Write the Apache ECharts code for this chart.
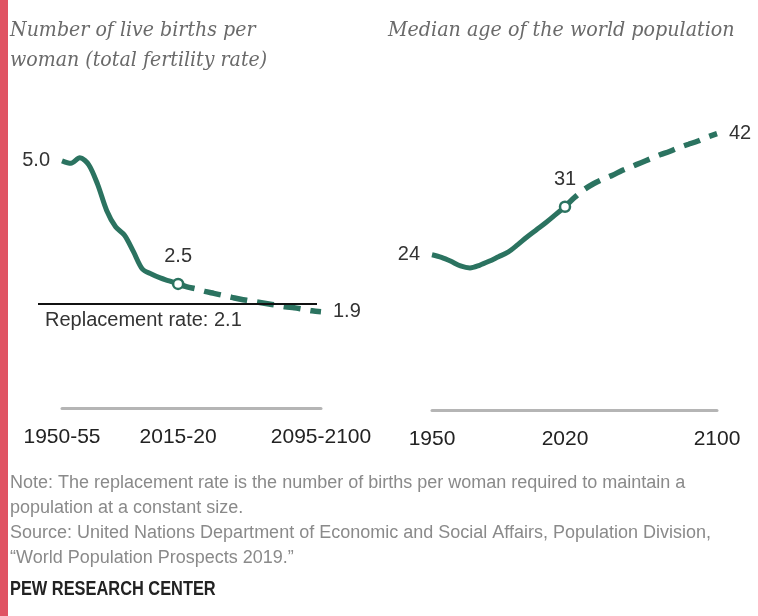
<!DOCTYPE html>
<html>
<head>
<meta charset="utf-8">
<script src="https://cdn.jsdelivr.net/npm/echarts@6.0.0/dist/echarts.min.js"></script>
<style>
html, body { margin: 0; padding: 0; background: #fff; }
#main { width: 758px; height: 616px; }
</style>
</head>
<body>
<div id="main"></div>
<script>
// total fertility rate, five-year periods
const periods = ['1950-55', '1955-60', '1960-65', '1965-70', '1970-75', '1975-80', '1980-85', '1985-90',
  '1990-95', '1995-2000', '2000-05', '2005-10', '2010-15', '2015-20', '2020-25', '2025-30', '2030-35',
  '2035-40', '2040-45', '2045-50', '2050-55', '2055-60', '2060-65', '2065-70', '2070-75', '2075-80',
  '2080-85', '2085-90', '2090-95', '2095-2100'];
const tfrPast = [4.98, 4.93, 5.04, 4.9, 4.5, 3.98, 3.65, 3.48, 3.15, 2.8, 2.7, 2.62, 2.56, 2.5];
const tfrProj = [2.5, 2.44, 2.4, 2.35, 2.31, 2.27, 2.23, 2.19, 2.16, 2.13, 2.1, 2.07, 2.04, 2.02, 1.99, 1.96, 1.94];
const periodTicks = ['1950-55', '2015-20', '2095-2100'];
const replacementRate = 2.1;

// median age of the world population
const ageYearsPast = [1950, 1955, 1960, 1965, 1970, 1975, 1980, 1985, 1990, 1995, 2000, 2005, 2010, 2015, 2020];
const agePast = [23.6, 23.2, 22.6, 21.9, 21.6, 22.0, 22.6, 23.3, 24.0, 25.1, 26.3, 27.4, 28.5, 29.7, 30.9];
const ageYearsProj = [2020, 2025, 2030, 2035, 2040, 2045, 2050, 2055, 2060, 2065, 2070, 2075, 2080, 2085, 2090, 2095, 2100];
const ageProj = [30.9, 32.3, 33.5, 34.4, 35.1, 35.7, 36.4, 37.0, 37.6, 38.2, 38.8, 39.3, 39.9, 40.4, 40.9, 41.5, 42.0];
const yearTicks = [1950, 2020, 2100];

const green = '#2b7360';
const labelFont = { fontFamily: 'Liberation Sans, Arial, sans-serif', fontSize: 20, color: '#333' };

function tag(value, position, digits, marker) {
  return {
    value: value,
    symbolSize: marker ? 10 : 0,
    label: Object.assign({ show: true, position: position, distance: marker ? 11 : 12,
      formatter: p => Number(Array.isArray(p.value) ? p.value[1] : p.value).toFixed(digits) }, labelFont)
  };
}

const tfrPastData = periods.map((p, i) => {
  if (i >= tfrPast.length) return '-';
  if (i === 0) return tag(tfrPast[i], 'left', 1, false);
  if (i === tfrPast.length - 1) return tag(tfrPast[i], 'top', 1, true);
  return tfrPast[i];
});
const offset = periods.length - tfrProj.length;
const tfrProjData = periods.map((p, i) => {
  if (i < offset) return '-';
  const v = tfrProj[i - offset];
  if (i === periods.length - 1) return tag(v, 'right', 1, false);
  return v;
});

const agePastData = ageYearsPast.map((y, i) => {
  if (i === 0) return tag([y, agePast[i]], 'left', 0, false);
  if (i === ageYearsPast.length - 1) return tag([y, agePast[i]], 'top', 0, true);
  return [y, agePast[i]];
});
const ageProjData = ageYearsProj.map((y, i) => {
  if (i === ageYearsProj.length - 1) return tag([y, ageProj[i]], 'right', 0, false);
  return [y, ageProj[i]];
});

const axisText = { fontFamily: 'Liberation Sans, Arial, sans-serif', fontSize: 21, color: '#222', margin: 19 };
const baseLine = { show: true, lineStyle: { color: '#b5b5b5', width: 3 } };

function lineSeries(name, xi, data, dashed, z) {
  return {
    name: name,
    type: 'line',
    xAxisIndex: xi,
    yAxisIndex: xi,
    data: data,
    z: z,
    symbol: 'circle',
    symbolSize: 0,
    showSymbol: true,
    clip: false,
    smooth: 0.3,
    connectNulls: false,
    lineStyle: { color: green, width: dashed ? 5.5 : 5, type: dashed ? [17, 10] : 'solid', cap: 'butt' },
    itemStyle: { color: '#fff', borderColor: green, borderWidth: 2.5 },
    emphasis: { disabled: true }
  };
}

const chart = echarts.init(document.getElementById('main'));
chart.setOption({
  backgroundColor: '#fff',
  animation: false,
  grid: [
    { left: 62, width: 259, top: 135, height: 273 },
    { left: 432, width: 285, top: 114, height: 296 },
    // same vertical scale as the fertility panel, a bit wider to the left, for the replacement line
    { left: 38, width: 279, top: 135, height: 273 }
  ],
  xAxis: [
    {
      type: 'category', gridIndex: 0, data: periods, boundaryGap: false,
      axisLine: baseLine, axisTick: { show: false }, splitLine: { show: false },
      axisLabel: Object.assign({ interval: (i, v) => periodTicks.includes(v) }, axisText)
    },
    {
      type: 'value', gridIndex: 1, min: 1950, max: 2100, interval: 10,
      axisLine: baseLine, axisTick: { show: false }, splitLine: { show: false },
      axisLabel: Object.assign({ formatter: v => yearTicks.includes(v) ? String(v) : '' }, axisText)
    },
    { type: 'value', gridIndex: 2, min: 0, max: 1, show: false, splitLine: { show: false } }
  ],
  yAxis: [
    { type: 'value', gridIndex: 0, min: 0, max: 5.5, show: false, splitLine: { show: false } },
    { type: 'value', gridIndex: 1, min: 0, max: 45, show: false, splitLine: { show: false } },
    { type: 'value', gridIndex: 2, min: 0, max: 5.5, show: false, splitLine: { show: false } }
  ],
  series: [
    lineSeries('Fertility projected', 0, tfrProjData, true, 2),
    lineSeries('Fertility', 0, tfrPastData, false, 3),
    {
      name: 'Replacement rate',
      type: 'line', xAxisIndex: 2, yAxisIndex: 2, data: [], z: 4,
      markLine: {
        silent: true, symbol: 'none',
        lineStyle: { color: '#111', width: 2, type: 'solid' },
        label: Object.assign({ show: true, position: 'insideStartBottom', distance: [7, 7],
          formatter: 'Replacement rate: ' + replacementRate }, labelFont),
        data: [{ yAxis: replacementRate }]
      }
    },
    lineSeries('Median age projected', 1, ageProjData, true, 2),
    lineSeries('Median age', 1, agePastData, false, 3)
  ],
  graphic: [
    { type: 'rect', left: 0, top: 0, shape: { width: 8, height: 616 }, style: { fill: '#e05363' } },
    { type: 'text', x: 10, y: 16, scaleX: 0.95, style: { text: 'Number of live births per\nwoman (total fertility rate)',
      font: 'italic 20px "DejaVu Serif", Georgia, serif', fill: '#6a6a6a', lineHeight: 30 } },
    { type: 'text', x: 388, y: 16, scaleX: 0.955, style: { text: 'Median age of the world population',
      font: 'italic 20px "DejaVu Serif", Georgia, serif', fill: '#6a6a6a', lineHeight: 30 } },
    { type: 'text', left: 10, top: 471, style: {
      text: 'Note: The replacement rate is the number of births per woman required to maintain a\npopulation at a constant size.\nSource: United Nations Department of Economic and Social Affairs, Population Division,\n\u201cWorld Population Prospects 2019.\u201d',
      font: '18px "Liberation Sans", Arial, sans-serif', fill: '#8a8a8a', lineHeight: 25 } },
    { type: 'text', x: 10, y: 579, scaleX: 0.78, style: { text: 'PEW RESEARCH CENTER',
      font: 'bold 21px "Liberation Sans", Arial, sans-serif', fill: '#222' } }
  ]
});
</script>
</body>
</html>
